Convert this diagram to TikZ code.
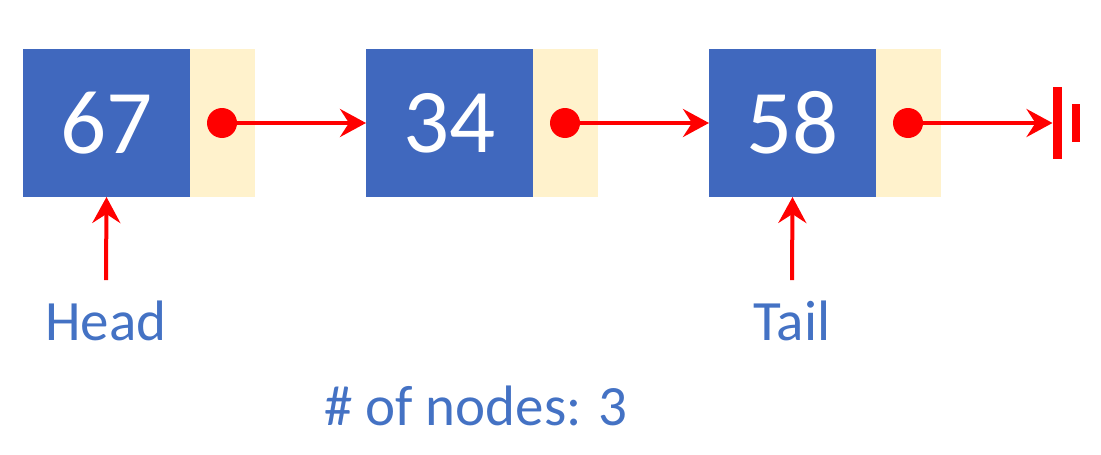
\documentclass[tikz,border=0pt]{standalone}
\usepackage{fontspec}
\setmainfont{Carlito}
\usetikzlibrary{arrows.meta}
\definecolor{nodeblue}{HTML}{4068BE}
\definecolor{textblue}{HTML}{4472C4}
\definecolor{ptrfill}{HTML}{FFF2CC}
\definecolor{ptrred}{HTML}{FF0000}
\tikzset{
  databox/.style={draw=none, fill=nodeblue, minimum width=167pt, minimum height=148pt, inner sep=0pt, outer sep=0pt, text=white, font=\fontsize{91}{100}\selectfont},
  ptrbox/.style={draw=none, fill=ptrfill, minimum width=65pt, minimum height=148pt, inner sep=0pt, outer sep=0pt},
  dot/.style={circle, fill=ptrred, minimum size=30pt, inner sep=0pt, outer sep=0pt},
  link/.style={draw=ptrred, line width=4pt, -{Stealth[length=26pt, width=28pt, inset=9pt]}},
  label/.style={text=textblue, font=\fontsize{57}{62}\selectfont, inner sep=0pt, anchor=base},
  gbar/.style={fill=ptrred, draw=none, inner sep=0pt, outer sep=0pt}
}
\begin{document}
\begin{tikzpicture}[x=1pt, y=-1pt]
\useasboundingbox (0,0) rectangle (1101,455);
% nodes
\node[databox] (d1) at (106.5,123) {67};
\node[ptrbox] (p1) at (222.5,123) {};
\node[databox] (d2) at (449.5,123) {34};
\node[ptrbox] (p2) at (565.5,123) {};
\node[databox] (d3) at (792.5,123) {58};
\node[ptrbox] (p3) at (908.5,123) {};
\node[dot] (c1) at (222,123) {};
\node[dot] (c2) at (565,123) {};
\node[dot] (c3) at (908,123) {};
% ground
\node[gbar, minimum width=9pt, minimum height=72pt] (g1) at (1057,123) {};
\node[gbar, minimum width=8pt, minimum height=38pt] (g2) at (1076,123) {};
% links
\draw[link] (c1.center) -- (d2.west);
\draw[link] (c2.center) -- (d3.west);
\draw[link] (c3.center) -- (g1.west);
% labels
\node[label] (head) at (106,340) {Head};
\node[label] (tail) at (792,340) {Tail};
\node[label] (count) at (476,425) {\# of nodes: 3};
\draw[link] ([yshift=20pt]head.north) -- (d1.south);
\draw[link] ([yshift=20pt]tail.north) -- (d3.south);
\end{tikzpicture}
\end{document}
